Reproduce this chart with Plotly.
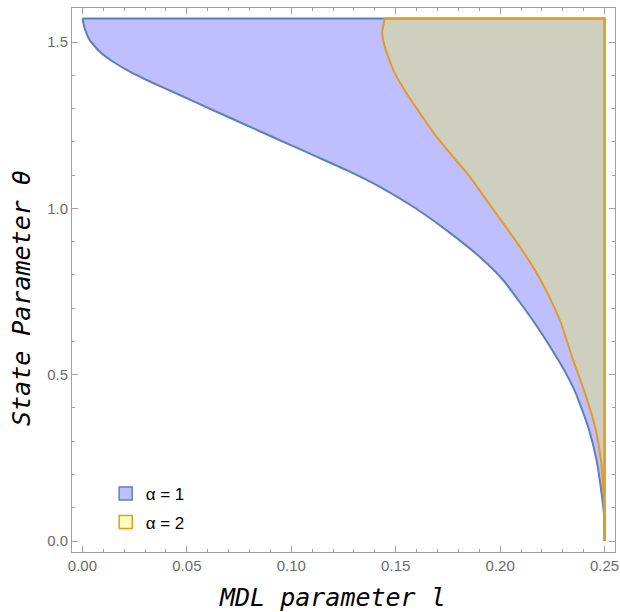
import plotly.graph_objects as go

# ---- data ----
theta_max = 1.5708   # top of the region (pi/2)
l_max = 0.25         # right edge of the region

# boundary of the alpha = 1 region (MDL parameter l, state parameter theta)
l_alpha1 = [0.0, 0.0011, 0.0035, 0.0083, 0.0147, 0.0227, 0.0307, 0.0466, 0.0626,
            0.0786, 0.0945, 0.1105, 0.1265, 0.1424, 0.1584, 0.1744, 0.1903,
            0.2015, 0.2167, 0.2275, 0.2333, 0.2363, 0.2422, 0.2462, 0.2486,
            0.2497, 0.25]
theta_alpha1 = [1.5708, 1.541, 1.506, 1.471, 1.441, 1.411, 1.386, 1.341, 1.295,
                1.250, 1.205, 1.160, 1.115, 1.065, 1.005, 0.934, 0.854,
                0.784, 0.654, 0.548, 0.483, 0.443, 0.342, 0.242, 0.142,
                0.082, 0.0]

# boundary of the alpha = 2 region
l_alpha2 = [0.1448, 0.1435, 0.1446, 0.1464, 0.1496, 0.1552, 0.1616, 0.1696,
            0.1775, 0.1855, 0.1935, 0.2015, 0.2095, 0.2167, 0.2236, 0.2292,
            0.2350, 0.2407, 0.2455, 0.2483, 0.2494, 0.2499, 0.25]
theta_alpha2 = [1.5708, 1.530, 1.490, 1.456, 1.406, 1.346, 1.286, 1.215,
                1.155, 1.095, 1.025, 0.955, 0.884, 0.814, 0.734, 0.654,
                0.543, 0.443, 0.342, 0.242, 0.162, 0.092, 0.0]

series_names = ["α = 1", "α = 2"]
x_ticks = [0.0, 0.05, 0.10, 0.15, 0.20, 0.25]
y_ticks = [0.0, 0.5, 1.0, 1.5]

blue_line = "#5E81B5"
orange_line = "#E19C24"
blue_fill = "rgba(0,0,255,0.25)"
yellow_fill = "rgba(255,255,0,0.25)"

fig = go.Figure()
regions = [((l_alpha1, theta_alpha1), blue_line, blue_fill, series_names[0]),
           ((l_alpha2, theta_alpha2), orange_line, yellow_fill, series_names[1])]
for (ls, ts), lc, fc, name in regions:
    # filled region: boundary curve, then right edge (l = l_max) and top edge (theta = theta_max)
    fig.add_trace(go.Scatter(x=list(ls) + [l_max, l_max, ls[0]],
                             y=list(ts) + [0.0, theta_max, ts[0]],
                             mode="lines", fill="toself", fillcolor=fc,
                             line=dict(width=0, color=fc), showlegend=False,
                             hoverinfo="skip"))
    # straight edges of the region
    fig.add_trace(go.Scatter(x=[l_max, l_max, ls[0]], y=[0.0, theta_max, theta_max],
                             mode="lines", line=dict(color=lc, width=2),
                             showlegend=False, hoverinfo="skip"))
    # curved boundary
    fig.add_trace(go.Scatter(x=ls, y=ts, mode="lines",
                             line=dict(color=lc, width=2, shape="spline", smoothing=0.5),
                             showlegend=False, hoverinfo="skip"))
    # legend swatch
    fig.add_trace(go.Scatter(x=[None], y=[None], mode="markers", name=name,
                             legendgroup=name,
                             marker=dict(symbol="square", size=13, color=fc,
                                         line=dict(color=lc, width=1.5))))

axis_common = dict(showline=True, linecolor="#a0a0a0", linewidth=1, mirror="allticks",
                   ticks="inside", ticklen=6, tickcolor="#a0a0a0", tickwidth=1,
                   showgrid=False, zeroline=False, automargin=False,
                   tickfont=dict(family="Liberation Sans, Arial", size=15, color="#6b6b6b"))

fig.update_xaxes(range=[-0.005, 0.255], tickvals=x_ticks, tickformat=".2f",
                 minor=dict(ticks="inside", ticklen=3, dtick=0.01, tick0=0,
                            tickcolor="#a0a0a0"),
                 **axis_common)
fig.update_yaxes(range=[-0.033, 1.6025], tickvals=y_ticks, tickformat=".1f",
                 minor=dict(ticks="inside", ticklen=3, dtick=0.1, tick0=0,
                            tickcolor="#a0a0a0"),
                 **axis_common)

title_font = dict(family="DejaVu Sans Mono", size=25, color="black", style="italic")
fig.add_annotation(text="MDL parameter l", xref="paper", yref="paper",
                   x=0.48, y=-0.083, xanchor="center", yanchor="middle",
                   showarrow=False, font=title_font)
fig.add_annotation(text="State Parameter θ", xref="paper", yref="paper",
                   x=-0.092, y=0.467, xanchor="center", yanchor="middle",
                   textangle=-90, showarrow=False, font=title_font)

fig.update_layout(
    width=620, height=612,
    margin=dict(l=72, r=5, t=8, b=60),
    paper_bgcolor="white", plot_bgcolor="white",
    legend=dict(x=0.062, y=0.14, xanchor="left", yanchor="top",
                bgcolor="rgba(0,0,0,0)", tracegroupgap=3.5,
                font=dict(family="Liberation Sans, Arial", size=17, color="black")),
)

# remove the page's default body margin so the figure fills the window exactly
fig.write_html("out.html",
               config={"displayModeBar": False},
               post_script="document.body.style.margin='0px';"
                           "document.body.style.overflow='hidden';")
